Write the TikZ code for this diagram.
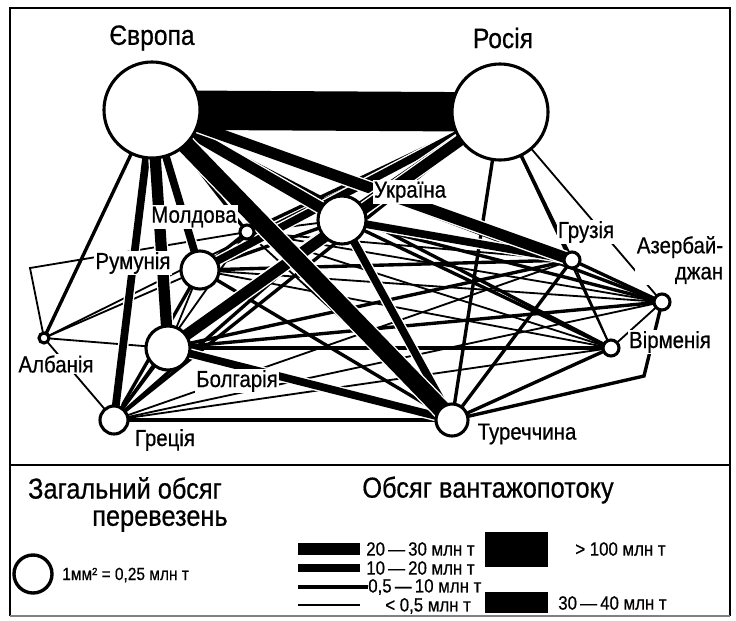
\documentclass[tikz,border=0pt]{standalone}
\usepackage{fontspec}
\setmainfont{Liberation Sans}[FakeStretch=0.88, FakeBold=0.6]
\usetikzlibrary{backgrounds}

\begin{document}
\begin{tikzpicture}[x=0.025cm, y=-0.025cm,
    w1/.style={line width=1.3pt},
    w2/.style={line width=2.4pt},
    w3/.style={preaction={draw=white, line width=7.5pt}, line width=5.5pt},
    w4/.style={preaction={draw=white, line width=10pt}, line width=8pt},
    w5/.style={preaction={draw=white, line width=14.5pt}, line width=12.5pt},
    w6/.style={line width=28pt},
    cty/.style={circle, draw, fill=white, line width=2.2pt, inner sep=0pt},
    lbl/.style={fill=white, inner sep=1pt, font=\fontsize{16.5}{18.5}\selectfont},
    ttl/.style={font=\fontsize{19.9}{22}\selectfont},
    hdr/.style={inner sep=0pt, font=\fontsize{20.5}{23}\selectfont},
    leg/.style={inner sep=0pt, font=\fontsize{13.6}{15}\selectfont}]
\useasboundingbox (0,0) rectangle (736,620);

% frame
\draw[line width=1.5pt] (10,616) -- (10,8) -- (730,8) -- (730,616);
\draw[gray, line width=1pt] (10,616) -- (730,616);
\draw[line width=1.4pt] (10,465) -- (730,465);

% countries
\node[cty, minimum size=2.4cm] (E) at (152,110) {};
\node[cty, minimum size=2.4cm] (R) at (500,112) {};
\node[cty, minimum size=1.2cm] (U) at (342,220) {};
\node[cty, minimum size=0.35cm] (M) at (247,232) {};
\node[cty, minimum size=0.95cm] (Ro) at (200,270) {};
\node[cty, minimum size=1.1cm] (B) at (168,348) {};
\node[cty, minimum size=0.25cm] (A) at (44,338) {};
\node[cty, minimum size=0.7cm] (G) at (114,420) {};
\node[cty, minimum size=0.8cm] (T) at (452,420) {};
\node[cty, minimum size=0.4cm] (Gz) at (572,260) {};
\node[cty, minimum size=0.4cm] (Az) at (662,302) {};
\node[cty, minimum size=0.4cm] (Ar) at (611,348) {};

\coordinate (bendA) at (30,268);
\coordinate (bendT) at (644,376);

% flows
\begin{scope}[on background layer]
\foreach \a/\b in {R/A, R/Az, R/Ar, U/M, Ro/Az, Ro/Ar, Ro/A, B/A, G/Gz, G/Az,
    G/Ar, G/A, Gz/Ar, Az/Ar, M/Az, M/Gz, M/Ar, Ro/B, M/T, G/M}
  \draw[w1] (\a.center) -- (\b.center);
\draw[w1] (A.center) -- (bendA) -- (M.center);
\foreach \a/\b in {E/A, E/M, E/Az, E/Ar, R/M, R/G, R/T, R/Gz, U/Ro, U/G, U/Az,
    U/Ar, Ro/T, Ro/Gz, Ro/G, B/Gz, B/Az, B/Ar, B/G, G/T, T/Gz, T/Ar, Gz/Az, Ro/M}
  \draw[w2] (\a.center) -- (\b.center);
\draw[w2] (T.center) -- (bendT) -- (Az.center);
\foreach \a/\b in {E/Ro, E/G, R/Ro, U/B, U/T, U/Gz, B/T}
  \draw[w3] (\a.center) -- (\b.center);
\foreach \a/\b in {E/U, E/B, E/Gz, R/U, R/B}
  \draw[w4] (\a.center) -- (\b.center);
\draw[w5] (E.center) -- (T.center);
\draw[w6] (E.center) -- (R.center);
\end{scope}

% names
\node[ttl] (tE) at (152,38) {Європа};
\node[ttl] (tR) at (503,38) {Росія};
\node[lbl] (tU) at (410,192) {Україна};
\node[lbl] (tM) at (194,217) {Молдова};
\node[lbl] (tRo) at (133,263) {Румунія};
\node[lbl] (tA) at (56,364) {Албанія};
\node[lbl] (tB) at (237,381) {Болгарія};
\node[lbl] (tG) at (165,440) {Греція};
\node[lbl] (tT) at (527,434) {Туреччина};
\node[lbl] (tGz) at (586,232) {Грузія};
\node[lbl, align=right] (tAz) at (680,260) {Азербай-\\джан};
\node[lbl] (tAr) at (670,342) {Вірменія};

% legend
\node[hdr] (hTot) at (125,488) {Загальний обсяг};
\node[hdr, anchor=east] (hTot2) at (228,521) {перевезень};
\node[cty, line width=2.4pt, minimum size=0.95cm] (sc) at (33,574) {};
\node[leg, anchor=west, font=\fontsize{12.5}{14}\selectfont] (tsc) at (62,575) {1мм² = 0,25 млн т};
\node[hdr] (hFlow) at (488,490) {Обсяг вантажопотоку};

\fill (298,543) rectangle (360,555);
\fill (298,564) rectangle (360,572);
\fill (298,585) rectangle (368,588.5);
\fill (298,604) rectangle (360,606);
\fill (485,532) rectangle (548,567);
\fill (485,592) rectangle (548,613);
\node[leg, anchor=west] (l4) at (366,549) {20\,—\,30 млн т};
\node[leg, anchor=west] (l3) at (366,568) {10\,—\,20 млн т};
\node[leg, anchor=west] (l2) at (368,587) {0,5\,—\,10 млн т};
\node[leg, anchor=west] (l1) at (385,606) {< 0,5 млн т};
\node[leg, anchor=west] (l6) at (575,549) {> 100 млн т};
\node[leg, anchor=west] (l5) at (558,603) {30\,—\,40 млн т};

\end{tikzpicture}
\end{document}
